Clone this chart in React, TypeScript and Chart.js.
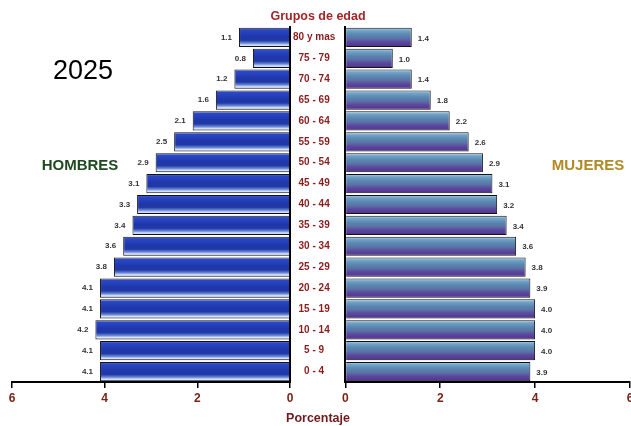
import React, { useEffect, useRef } from "react";
import { Chart, registerables } from "chart.js";

Chart.register(...registerables);

const ageGroups = [
  "80 y mas", "75 - 79", "70 - 74", "65 - 69", "60 - 64", "55 - 59",
  "50 - 54", "45 - 49", "40 - 44", "35 - 39", "30 - 34", "25 - 29",
  "20 - 24", "15 - 19", "10 - 14", "5 - 9", "0 - 4",
];
const hombres = [1.1, 0.8, 1.2, 1.6, 2.1, 2.5, 2.9, 3.1, 3.3, 3.4, 3.6, 3.8, 4.1, 4.1, 4.2, 4.1, 4.1];
const mujeres = [1.4, 1.0, 1.4, 1.8, 2.2, 2.6, 2.9, 3.1, 3.2, 3.4, 3.6, 3.8, 3.9, 4.0, 4.0, 4.0, 3.9];
const xTicks = [0, 2, 4, 6];

const FONT = "'Liberation Sans', Arial, Helvetica, sans-serif";
const BAR_PCT = 0.92;

const blueStops: [number, string][] = [
  [0, "#8597dc"],
  [0.1, "#2b48c8"],
  [0.45, "#1f37ab"],
  [0.65, "#2039a4"],
  [0.8, "#6d8ad8"],
  [0.9, "#dbe6f7"],
  [1, "#9fb3e6"],
];
const purpleStops: [number, string][] = [
  [0, "#b4d4ea"],
  [0.15, "#72a2c8"],
  [0.35, "#5a88b0"],
  [0.55, "#5c72a6"],
  [0.75, "#5a479c"],
  [0.9, "#583a96"],
  [1, "#3a2a78"],
];

function gradientFor(stops: [number, string][]) {
  return (ctx: any) => {
    const chart = ctx.chart;
    const area = chart.chartArea;
    const ys = chart.scales && chart.scales.y;
    if (!area || !ys || ctx.type !== "data") return stops[2][1];
    const yc = ys.getPixelForValue(ctx.dataIndex);
    const h = ((area.bottom - area.top) / ageGroups.length) * BAR_PCT;
    const g = chart.ctx.createLinearGradient(0, yc - h / 2, 0, yc + h / 2);
    stops.forEach(([o, c]) => g.addColorStop(o, c));
    return g;
  };
}

function valueLabelPlugin(side: "left" | "right") {
  return {
    id: "valueLabels" + side,
    afterDatasetsDraw(chart: any) {
      const ctx = chart.ctx;
      const meta = chart.getDatasetMeta(0);
      const data = chart.data.datasets[0].data as number[];
      ctx.save();
      ctx.font = `bold 8px ${FONT}`;
      ctx.fillStyle = "#333";
      ctx.textBaseline = "middle";
      meta.data.forEach((bar: any, i: number) => {
        const txt = data[i].toFixed(1);
        if (side === "left") {
          ctx.textAlign = "right";
          ctx.fillText(txt, bar.x - 7, bar.y);
        } else {
          ctx.textAlign = "left";
          ctx.fillText(txt, bar.x + 6, bar.y + 1);
        }
      });
      ctx.restore();
    },
  };
}

const tickColor = "#7a2418";

export default function App() {
  const leftRef = useRef<HTMLCanvasElement>(null);
  const rightRef = useRef<HTMLCanvasElement>(null);

  useEffect(() => {
    Chart.defaults.font.family = FONT;
    const left = new Chart(leftRef.current!, {
      type: "bar",
      data: {
        labels: ageGroups,
        datasets: [
          {
            label: "Hombres",
            data: hombres,
            backgroundColor: gradientFor(blueStops),
            borderColor: "#111",
            borderWidth: 1,
            categoryPercentage: 1,
            barPercentage: BAR_PCT,
          },
        ],
      },
      options: {
        indexAxis: "y",
        animation: false,
        responsive: false,
        devicePixelRatio: 1,
        layout: { padding: { left: 12, right: 0, top: 27, bottom: 14 } },
        plugins: { legend: { display: false }, tooltip: { enabled: false }, title: { display: false } },
        scales: {
          x: {
            type: "linear",
            reverse: true,
            min: 0,
            max: 6,
            position: "bottom",
            afterBuildTicks: (s: any) => {
              s.ticks = xTicks.map((v) => ({ value: v }));
            },
            afterFit: (s: any) => {
              s.height = 30;
            },
            grid: { display: true, drawOnChartArea: false, drawTicks: true, tickLength: 6, color: "#000", lineWidth: 1.5 },
            border: { display: true, color: "#000", width: 2 },
            ticks: { color: tickColor, font: { weight: "bold", size: 12 }, padding: 3, maxRotation: 0 },
          },
          y: {
            type: "category",
            position: "right",
            afterFit: (s: any) => {
              s.width = 55;
            },
            grid: { display: false, drawTicks: false },
            border: { display: true, color: "#000", width: 2 },
            ticks: {
              color: "#8b1c1c",
              font: { weight: "bold", size: 10 },
              crossAlign: "center",
              padding: 3,
              autoSkip: false,
            },
          },
        },
      } as any,
      plugins: [valueLabelPlugin("left")],
    });

    const right = new Chart(rightRef.current!, {
      type: "bar",
      data: {
        labels: ageGroups,
        datasets: [
          {
            label: "Mujeres",
            data: mujeres,
            backgroundColor: gradientFor(purpleStops),
            borderColor: "#111",
            borderWidth: 1,
            categoryPercentage: 1,
            barPercentage: BAR_PCT,
          },
        ],
      },
      options: {
        indexAxis: "y",
        animation: false,
        responsive: false,
        devicePixelRatio: 1,
        layout: { padding: { left: 6, right: 9, top: 27, bottom: 14 } },
        plugins: { legend: { display: false }, tooltip: { enabled: false }, title: { display: false } },
        scales: {
          x: {
            type: "linear",
            min: 0,
            max: 6,
            position: "bottom",
            afterBuildTicks: (s: any) => {
              s.ticks = xTicks.map((v) => ({ value: v }));
            },
            afterFit: (s: any) => {
              s.height = 30;
            },
            grid: { display: true, drawOnChartArea: false, drawTicks: true, tickLength: 6, color: "#000", lineWidth: 1.5 },
            border: { display: true, color: "#000", width: 2 },
            ticks: { color: tickColor, font: { weight: "bold", size: 12 }, padding: 3, maxRotation: 0 },
          },
          y: {
            type: "category",
            position: "left",
            afterFit: (s: any) => {
              s.width = 0;
            },
            grid: { display: false, drawTicks: false },
            border: { display: true, color: "#000", width: 2 },
            ticks: { display: false },
          },
        },
      } as any,
      plugins: [valueLabelPlugin("right")],
    });

    return () => {
      left.destroy();
      right.destroy();
    };
  }, []);

  const txt = (style: React.CSSProperties, content: string) => (
    <div
      style={{
        position: "absolute",
        transform: "translate(-50%, -50%)",
        whiteSpace: "nowrap",
        lineHeight: 1,
        fontFamily: FONT,
        ...style,
      }}
    >
      {content}
    </div>
  );

  return (
    <div
      style={{
        position: "absolute",
        left: 0,
        top: 0,
        width: 631,
        height: 426,
        overflow: "hidden",
        background: "#fff",
      }}
    >
      <canvas ref={leftRef} width={345} height={426} style={{ position: "absolute", left: 0, top: 0, width: 345, height: 426 }} />
      <canvas ref={rightRef} width={300} height={426} style={{ position: "absolute", left: 339, top: 0, width: 300, height: 426 }} />
      {txt({ left: 318, top: 16, fontSize: 12.5, fontWeight: "bold", color: "#a0262a" }, "Grupos de edad")}
      {txt({ left: 83, top: 70, fontSize: 27, color: "#000" }, "2025")}
      {txt({ left: 80, top: 164, fontSize: 15, fontWeight: "bold", color: "#1f4a1f" }, "HOMBRES")}
      {txt({ left: 588, top: 164, fontSize: 15, fontWeight: "bold", color: "#b08a24" }, "MUJERES")}
      {txt({ left: 318, top: 418, fontSize: 12.5, fontWeight: "bold", color: "#6e1c1c" }, "Porcentaje")}
    </div>
  );
}
